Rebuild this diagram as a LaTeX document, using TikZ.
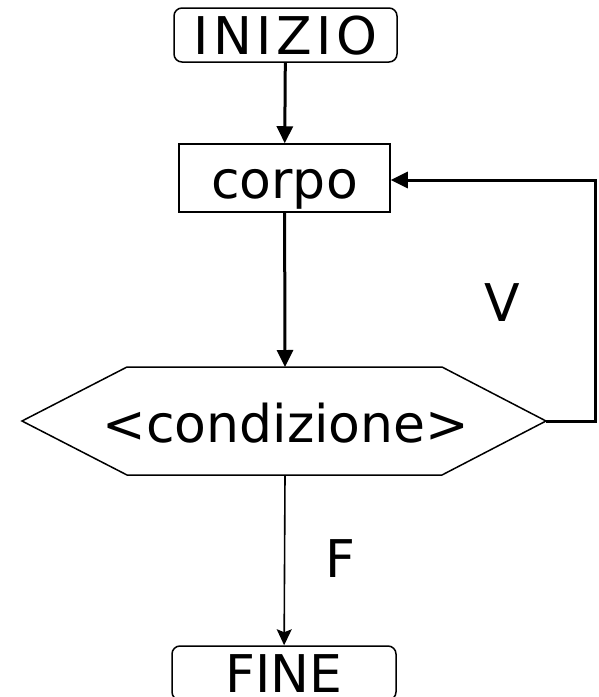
\documentclass[tikz,border=0pt]{standalone}
\usepackage{fontspec}
\setmainfont{DejaVu Sans}
\usetikzlibrary{arrows.meta}
\begin{document}
\begin{tikzpicture}[x=1pt,y=-1pt,
  txt/.style={font=\fontsize{52}{60}\selectfont, inner sep=0pt, text height=38pt, text depth=0pt},
  terminal/.style={txt, draw, line width=1.5pt, rounded corners=8pt, minimum width=223pt, minimum height=54pt},
  process/.style={txt, draw, line width=1.5pt, minimum width=211pt, minimum height=68pt, text height=40pt},
  flow/.style={line width=3pt, -{Triangle[length=17pt,width=16pt]}},
  thinflow/.style={line width=1.6pt, -{Stealth[length=16pt,width=15pt,inset=3pt]}}
]
\useasboundingbox (0,0) rectangle (598,697);
\node[terminal] (inizio) at (285.5,35) {\addfontfeature{LetterSpace=9}INIZIO};
\node[process] (corpo) at (284.5,178) {corpo};
\node[txt] (cond) at (286,423) {<condizione>};
\coordinate (condL) at (22,421);
\coordinate (condR) at (546,421);
\coordinate (condT) at (285,367);
\coordinate (condB) at (285,475);
\draw[line width=1.5pt, line join=miter] (condL) -- (127,367) -- (442,367) -- (condR) -- (442,475) -- (127,475) -- cycle;
\node[terminal, minimum width=224pt] (fine) at (284,673) {FINE};
\coordinate (loopA) at (595,421);
\coordinate (loopB) at (595,180);
\node[txt] (V) at (502.5,302.5) {V};
\node[txt] (F) at (340.5,558) {F};
\draw[flow] (inizio) -- (corpo);
\draw[flow] (corpo) -- (condT);
\draw[flow, line join=miter] (condR) -- (loopA) -- (loopB) -- (corpo.east |- loopB);
\draw[thinflow] (condB) -- (fine);
\end{tikzpicture}
\end{document}
